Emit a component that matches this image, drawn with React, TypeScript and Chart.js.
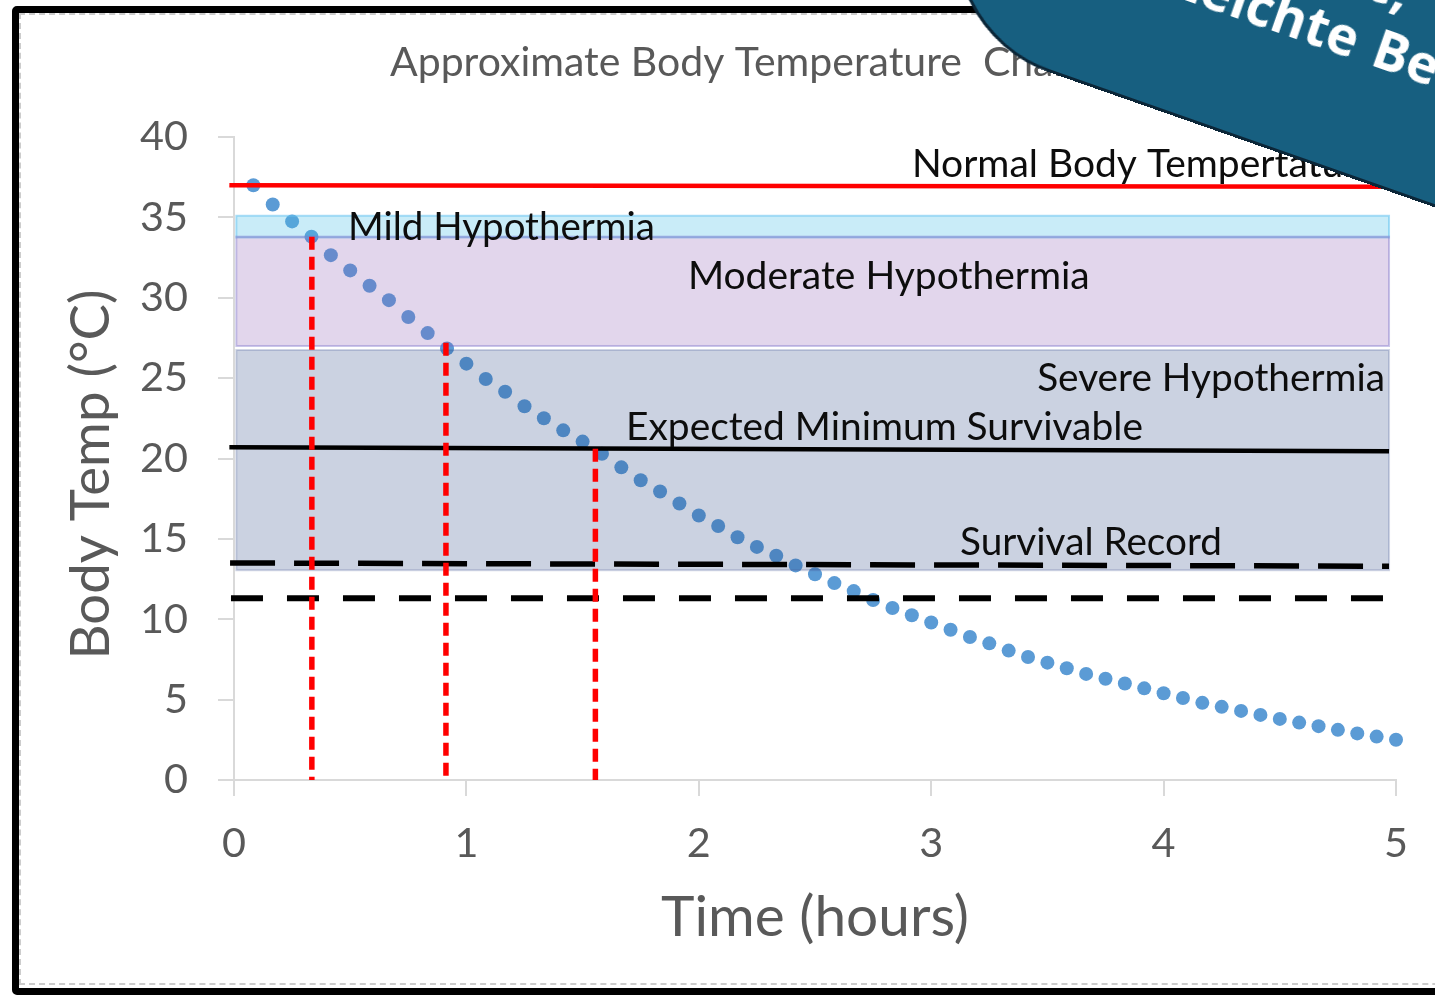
import React, { useEffect, useRef } from "react";
import { Chart, registerables } from "chart.js";

Chart.register(...registerables);

// ---------------- data ----------------
const TITLE = "Approximate Body Temperature  Change";
const X_TITLE = "Time (hours)";
const Y_TITLE = "Body Temp (°C)";

const TIME_MINUTES = [
  5, 10, 15, 20, 25, 30, 35, 40, 45, 50, 55, 60,
  65, 70, 75, 80, 85, 90, 95, 100, 105, 110, 115, 120,
  125, 130, 135, 140, 145, 150, 155, 160, 165, 170, 175, 180,
  185, 190, 195, 200, 205, 210, 215, 220, 225, 230, 235, 240,
  245, 250, 255, 260, 265, 270, 275, 280, 285, 290, 295, 300,
];
const BODY_TEMP = [
  37.0, 35.8, 34.75, 33.8, 32.65, 31.7, 30.75, 29.85, 28.8, 27.8, 26.85, 25.9,
  24.95, 24.15, 23.25, 22.5, 21.75, 21.05, 20.3, 19.45, 18.65, 17.95, 17.2, 16.45,
  15.8, 15.1, 14.5, 13.95, 13.35, 12.8, 12.25, 11.75, 11.2, 10.7, 10.25, 9.8,
  9.35, 8.9, 8.5, 8.05, 7.65, 7.3, 6.95, 6.6, 6.3, 6.0, 5.7, 5.4,
  5.1, 4.8, 4.55, 4.3, 4.05, 3.8, 3.57, 3.35, 3.12, 2.9, 2.7, 2.5,
];

const X_TICKS = [0, 1, 2, 3, 4, 5];
const Y_TICKS = [0, 5, 10, 15, 20, 25, 30, 35, 40];

const BAND_NAMES = ["Mild Hypothermia", "Moderate Hypothermia", "Severe Hypothermia"];
const BAND_UPPER = [35.1, 33.8, 26.75];
const BAND_LOWER = [33.75, 27.0, 13.05];
const BAND_FROM_T = [0.01, 0.01, 0.01];
const BAND_TO_T = [4.97, 4.97, 4.97];

const REF_NAMES = ["Normal Body Tempertature", "Expected Minimum Survivable", "Survival Record", ""];
const REF_FROM_T = [-0.02, -0.02, -0.017, -0.013];
const REF_TO_T = [5.03, 4.97, 4.97, 4.97];
const REF_FROM_Y = [37.0, 20.7, 13.5, 11.3];
const REF_TO_Y = [36.9, 20.45, 13.3, 11.3];

const MARK_TIMES = [0.335, 0.912, 1.555];
const MARK_TEMPS = [33.8, 27.2, 20.6];

const BANNER_LINE_1 = "Wassertemperatur 10 °C,";
const BANNER_LINE_2A = "Leichte";
const BANNER_LINE_2B = "Bekleidung";

// ---------------- styles / layout ----------------
const FONT = "Lato, 'Open Sans', sans-serif";
const GRAY = "#595959";
const AXIS = "#d9d9d9";

const REF_STYLES = [
  { color: "#ff0000", width: 4.5, dash: [] as number[] },
  { color: "#000000", width: 4.5, dash: [] as number[] },
  { color: "#000000", width: 5.5, dash: [45, 19] },
  { color: "#000000", width: 6, dash: [32, 24] },
];
const BAND_STYLES = [
  { fill: "rgba(75,192,232,0.30)", stroke: "rgba(100,195,240,0.55)" },
  { fill: "rgba(139,91,179,0.25)", stroke: "rgba(120,110,200,0.40)" },
  { fill: "rgba(42,70,132,0.245)", stroke: "rgba(70,90,150,0.25)" },
];
const LABEL_TEXTS = [REF_NAMES[0], BAND_NAMES[0], BAND_NAMES[1], BAND_NAMES[2], REF_NAMES[1], REF_NAMES[2]];
const LABEL_LAYOUT = [
  { t: 2.917, y: 37.51, align: "left", width: 0 },
  { t: 0.4905, y: 33.59, align: "left", width: 307 },
  { t: 1.953, y: 30.54, align: "left", width: 402 },
  { t: 4.953, y: 24.2, align: "right", width: 348 },
  { t: 1.687, y: 21.15, align: "left", width: 517 },
  { t: 3.124, y: 14.0, align: "left", width: 262 },
];

function fitSize(text: string, width: number, weight = "400"): number {
  const c = document.createElement("canvas").getContext("2d")!;
  c.font = `${weight} 100px ${FONT}`;
  const w = c.measureText(text).width;
  return (100 * width) / w;
}

export default function App() {
  const ref = useRef<HTMLCanvasElement>(null);

  useEffect(() => {
    const canvas = ref.current!;
    const tickSize = fitSize("40", 48);
    const yTitleSize = fitSize(Y_TITLE, 370);
    const xTitleSize = fitSize(X_TITLE, 308);
    const titleSize = fitSize("Approximate Body Temperature", 572);
    const labelSizes = LABEL_LAYOUT.map((l, i) => (l.width ? fitSize(LABEL_TEXTS[i], l.width) : 0));
    labelSizes[0] = labelSizes[2];

    const overlay = {
      id: "overlay",
      afterDatasetDraw(chart: any, args: any) {
        if (args.index !== 0) return;
        const { ctx, scales } = chart;
        const xs = scales.x, ys = scales.y;
        ctx.save();
        BAND_NAMES.forEach((_, i) => {
          const x0 = xs.getPixelForValue(BAND_FROM_T[i]);
          const x1 = xs.getPixelForValue(BAND_TO_T[i]);
          const y0 = ys.getPixelForValue(BAND_UPPER[i]);
          const y1 = ys.getPixelForValue(BAND_LOWER[i]);
          ctx.fillStyle = BAND_STYLES[i].fill;
          ctx.fillRect(x0, y0, x1 - x0, y1 - y0);
          ctx.strokeStyle = BAND_STYLES[i].stroke;
          ctx.lineWidth = 2;
          ctx.strokeRect(x0, y0, x1 - x0, y1 - y0);
        });
        ctx.restore();
      },
      afterDatasetsDraw(chart: any) {
        const { ctx, scales, chartArea } = chart;
        const xs = scales.x, ys = scales.y;
        ctx.save();
        ctx.textBaseline = "alphabetic";
        ctx.fillStyle = "#0d0d0d";
        LABEL_LAYOUT.forEach((l, i) => {
          ctx.font = `400 ${labelSizes[i]}px ${FONT}`;
          ctx.textAlign = l.align as CanvasTextAlign;
          ctx.fillText(LABEL_TEXTS[i], xs.getPixelForValue(l.t), ys.getPixelForValue(l.y));
        });
        ctx.fillStyle = GRAY;
        ctx.textAlign = "left";
        ctx.font = `400 ${titleSize}px ${FONT}`;
        ctx.fillText(TITLE, 390, 76);
        // y axis title
        ctx.translate(109, (chartArea.top + chartArea.bottom) / 2 + 16);
        ctx.rotate(-Math.PI / 2);
        ctx.textAlign = "center";
        ctx.font = `400 ${yTitleSize}px ${FONT}`;
        ctx.fillText(Y_TITLE, 0, 0);
        ctx.restore();
      },
    };

    const refSets = REF_NAMES.map((name, i) => ({
      type: "line" as const,
      label: name || "record-low",
      data: [
        { x: REF_FROM_T[i], y: REF_FROM_Y[i] },
        { x: REF_TO_T[i], y: REF_TO_Y[i] },
      ],
      borderColor: REF_STYLES[i].color,
      borderWidth: REF_STYLES[i].width,
      borderDash: REF_STYLES[i].dash,
      borderCapStyle: "butt" as const,
      pointRadius: 0,
      fill: false,
      clip: false as const,
      order: 1,
    }));
    const markSets = MARK_TIMES.map((t, i) => ({
      type: "line" as const,
      label: "mark" + i,
      data: [
        { x: t, y: MARK_TEMPS[i] },
        { x: t, y: 0 },
      ],
      borderColor: "#ff0000",
      borderWidth: 5.5,
      borderDash: [13, 7],
      borderCapStyle: "butt" as const,
      pointRadius: 0,
      fill: false,
      clip: false as const,
      order: 0,
    }));

    const chart = new Chart(canvas, {
      type: "scatter",
      data: {
        datasets: [
          {
            type: "scatter",
            label: "Body temperature",
            data: TIME_MINUTES.map((m, i) => ({ x: m / 60, y: BODY_TEMP[i] })),
            backgroundColor: "#5b9bd5",
            borderWidth: 0,
            pointRadius: 7,
            pointHoverRadius: 7,
            clip: false as const,
            order: 10,
          } as any,
          ...refSets,
          ...markSets,
        ],
      },
      options: {
        animation: false,
        responsive: false,
        devicePixelRatio: 1,
        layout: { padding: { top: 137, right: 39, left: 0, bottom: 0 } },
        plugins: { legend: { display: false }, tooltip: { enabled: false }, title: { display: false } },
        events: [],
        scales: {
          x: {
            type: "linear",
            min: 0,
            max: 5,
            afterBuildTicks: (s: any) => {
              s.ticks = X_TICKS.map((v) => ({ value: v }));
            },
            afterFit: (s: any) => {
              s.height = 215;
            },
            ticks: { color: GRAY, font: { family: FONT, size: tickSize }, padding: 23 },
            grid: { drawOnChartArea: false, drawTicks: true, tickLength: 16, color: AXIS, lineWidth: 2 },
            border: { display: true, color: AXIS, width: 2 },
            title: {
              display: true,
              text: X_TITLE,
              color: GRAY,
              font: { family: FONT, size: xTitleSize, lineHeight: 1.2 },
              padding: { top: 0, bottom: 77 - (xTitleSize * 1.2) / 2 },
            },
          },
          y: {
            type: "linear",
            min: 0,
            max: 40,
            afterBuildTicks: (s: any) => {
              s.ticks = Y_TICKS.map((v) => ({ value: v }));
            },
            afterFit: (s: any) => {
              s.width = 234;
            },
            ticks: { color: GRAY, font: { family: FONT, size: tickSize }, padding: 30 },
            grid: { drawOnChartArea: false, drawTicks: true, tickLength: 16, color: AXIS, lineWidth: 2 },
            border: { display: true, color: AXIS, width: 2 },
            title: { display: false },
          },
        },
      } as any,
      plugins: [overlay],
    });
    return () => chart.destroy();
  }, []);

  const bannerW = 1100;
  const bannerH = 460;
  const bannerText: React.CSSProperties = {
    position: "absolute",
    color: "#fff",
    fontFamily: "'Open Sans', sans-serif",
    fontWeight: 700,
    fontSize: 53,
    lineHeight: 1,
    whiteSpace: "nowrap",
  };
  return (
    <div
      style={{
        position: "fixed",
        left: 0,
        top: 0,
        width: 1435,
        height: 995,
        overflow: "hidden",
        background: "#ffffff",
      }}
    >
      <div
        style={{
          position: "absolute",
          left: 12,
          top: 6,
          width: 1700,
          height: 989,
          border: "7px solid #000",
          borderRadius: 5,
          boxSizing: "border-box",
          background: "#fff",
        }}
      />
      <div
        style={{
          position: "absolute",
          left: 19,
          top: 13,
          width: 1700,
          height: 972,
          border: "2px dashed #cccccc",
          boxSizing: "border-box",
        }}
      />
      <canvas
        ref={ref}
        width={1435}
        height={995}
        style={{ position: "absolute", left: 0, top: 0, width: 1435, height: 995 }}
      />
      <div
        style={{
          position: "absolute",
          left: 917,
          top: 26 - bannerH,
          width: bannerW,
          height: bannerH,
          transformOrigin: "0 100%",
          transform: "rotate(19.3deg)",
          background: "#175f80",
          border: "3px solid #0b2638",
          borderRadius: 140,
          boxSizing: "border-box",
        }}
      >
        <span style={{ ...bannerText, right: bannerW - 3 - 454, bottom: 166 }}>{BANNER_LINE_1}</span>
        <span style={{ ...bannerText, right: bannerW - 3 - 421, bottom: 104 }}>{BANNER_LINE_2A}</span>
        <span style={{ ...bannerText, left: 436, bottom: 104 }}>{BANNER_LINE_2B}</span>
      </div>
    </div>
  );
}
